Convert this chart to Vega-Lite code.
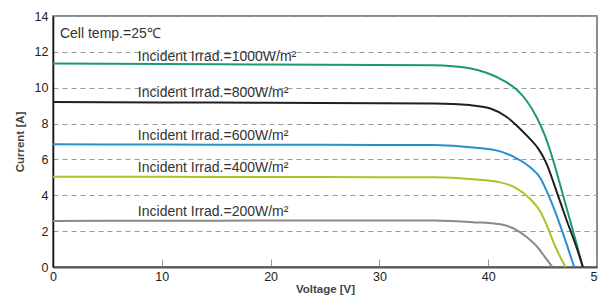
{
  "$schema": "https://vega.github.io/schema/vega-lite/v6.json",
  "width": 544,
  "height": 251,
  "autosize": "none",
  "padding": {"left": 53, "top": 16, "right": 1, "bottom": 31},
  "background": "white",
  "config": {
    "font": "Liberation Sans",
    "view": {"stroke": "#666666", "strokeWidth": 1.5}
  },
  "datasets": {
    "curves": [
      {"series": "1000", "V": 0, "I": 11.35}, {"series": "1000", "V": 10, "I": 11.32}, {"series": "1000", "V": 20, "I": 11.29}, {"series": "1000", "V": 30, "I": 11.27}, {"series": "1000", "V": 35, "I": 11.25}, {"series": "1000", "V": 38.3, "I": 11.08}, {"series": "1000", "V": 39.9, "I": 10.82}, {"series": "1000", "V": 41.4, "I": 10.4}, {"series": "1000", "V": 42.6, "I": 9.9}, {"series": "1000", "V": 43.5, "I": 9.3}, {"series": "1000", "V": 44.5, "I": 8.3}, {"series": "1000", "V": 45.2, "I": 7.35}, {"series": "1000", "V": 46.0, "I": 5.9}, {"series": "1000", "V": 46.9, "I": 3.95}, {"series": "1000", "V": 47.8, "I": 2.0}, {"series": "1000", "V": 48.7, "I": 0},
      {"series": "800", "V": 0, "I": 9.2}, {"series": "800", "V": 10, "I": 9.18}, {"series": "800", "V": 20, "I": 9.16}, {"series": "800", "V": 30, "I": 9.14}, {"series": "800", "V": 35, "I": 9.12}, {"series": "800", "V": 38.3, "I": 9.03}, {"series": "800", "V": 40.2, "I": 8.84}, {"series": "800", "V": 41.7, "I": 8.37}, {"series": "800", "V": 42.9, "I": 7.73}, {"series": "800", "V": 43.8, "I": 7.17}, {"series": "800", "V": 44.6, "I": 6.6}, {"series": "800", "V": 45.3, "I": 5.85}, {"series": "800", "V": 46.3, "I": 4.19}, {"series": "800", "V": 47.2, "I": 2.62}, {"series": "800", "V": 48.1, "I": 1.13}, {"series": "800", "V": 48.7, "I": 0},
      {"series": "600", "V": 0, "I": 6.84}, {"series": "600", "V": 10, "I": 6.83}, {"series": "600", "V": 20, "I": 6.82}, {"series": "600", "V": 30, "I": 6.81}, {"series": "600", "V": 35, "I": 6.8}, {"series": "600", "V": 38.6, "I": 6.67}, {"series": "600", "V": 41.1, "I": 6.45}, {"series": "600", "V": 42.6, "I": 6.06}, {"series": "600", "V": 43.8, "I": 5.59}, {"series": "600", "V": 44.8, "I": 4.95}, {"series": "600", "V": 45.4, "I": 4.2}, {"series": "600", "V": 46.3, "I": 2.85}, {"series": "600", "V": 47.1, "I": 1.47}, {"series": "600", "V": 47.9, "I": 0},
      {"series": "400", "V": 0, "I": 5.03}, {"series": "400", "V": 10, "I": 5.03}, {"series": "400", "V": 20, "I": 5.02}, {"series": "400", "V": 30, "I": 5.01}, {"series": "400", "V": 35, "I": 5.0}, {"series": "400", "V": 38.6, "I": 4.89}, {"series": "400", "V": 41.1, "I": 4.72}, {"series": "400", "V": 42.6, "I": 4.39}, {"series": "400", "V": 43.8, "I": 3.83}, {"series": "400", "V": 44.8, "I": 3.08}, {"series": "400", "V": 45.4, "I": 2.3}, {"series": "400", "V": 46.2, "I": 1.1}, {"series": "400", "V": 47.1, "I": 0},
      {"series": "200", "V": 0, "I": 2.57}, {"series": "200", "V": 10, "I": 2.58}, {"series": "200", "V": 20, "I": 2.59}, {"series": "200", "V": 30, "I": 2.6}, {"series": "200", "V": 35, "I": 2.59}, {"series": "200", "V": 38.6, "I": 2.5}, {"series": "200", "V": 41.1, "I": 2.38}, {"series": "200", "V": 42.3, "I": 2.16}, {"series": "200", "V": 43.5, "I": 1.69}, {"series": "200", "V": 44.5, "I": 1.13}, {"series": "200", "V": 45.2, "I": 0.57}, {"series": "200", "V": 45.9, "I": 0}
    ],
    "labels": [
      {"V": 0.64, "I": 12.8, "text": "Cell temp.=25℃"},
      {"V": 7.8, "I": 11.5, "text": "Incident Irrad.=1000W/m²"},
      {"V": 7.8, "I": 9.49, "text": "Incident Irrad.=800W/m²"},
      {"V": 7.8, "I": 7.11, "text": "Incident Irrad.=600W/m²"},
      {"V": 7.8, "I": 5.29, "text": "Incident Irrad.=400W/m²"},
      {"V": 7.8, "I": 2.84, "text": "Incident Irrad.=200W/m²"}
    ]
  },
  "encoding": {
    "x": {
      "field": "V", "type": "quantitative",
      "scale": {"domain": [0, 50], "nice": false},
      "axis": {
        "title": "Voltage [V]", "values": [0, 10, 20, 30, 40, 50],
        "grid": false, "domainColor": "#555555", "domainWidth": 2,
        "tickColor": "#999999", "tickSize": -8, "tickWidth": 1,
        "labelFontSize": 12.5, "labelColor": "#222222", "labelPadding": 11,
        "labelFlush": false, "labelOverlap": false,
        "titleFontSize": 11.5, "titleFontWeight": "bold", "titleColor": "#444444", "titlePadding": 1
      }
    },
    "y": {
      "field": "I", "type": "quantitative",
      "scale": {"domain": [0, 14], "nice": false},
      "axis": {
        "title": "Current [A]", "values": [0, 2, 4, 6, 8, 10, 12, 14],
        "grid": true, "gridDash": [5, 4], "gridColor": "#999999", "gridWidth": 1,
        "ticks": false, "domainColor": "#111111", "domainWidth": 1.5,
        "labelFontSize": 12.5, "labelColor": "#222222", "labelPadding": 5,
        "labelFlush": false, "labelOverlap": false,
        "titleFontSize": 11.5, "titleFontWeight": "bold", "titleColor": "#444444", "titlePadding": 9
      }
    }
  },
  "layer": [
    {
      "data": {"name": "curves"},
      "mark": {"type": "line", "interpolate": "monotone", "strokeWidth": 2},
      "encoding": {
        "color": {
          "field": "series", "type": "nominal",
          "scale": {"domain": ["1000", "800", "600", "400", "200"], "range": ["#1b9a72", "#231f20", "#2b8fcf", "#a2c62c", "#8a8a8a"]},
          "legend": null
        }
      }
    },
    {
      "data": {"name": "labels"},
      "mark": {"type": "text", "align": "left", "baseline": "alphabetic", "fontSize": 14, "color": "#333333", "font": "Liberation Sans"},
      "encoding": {
        "text": {"field": "text"}
      }
    }
  ]
}
